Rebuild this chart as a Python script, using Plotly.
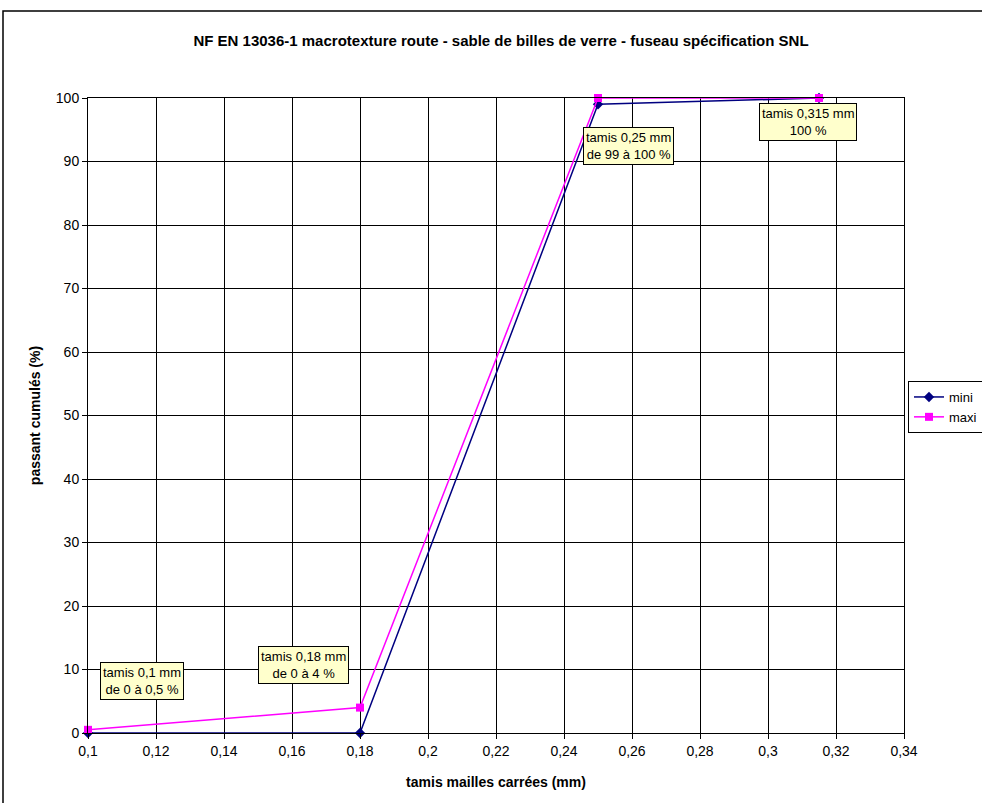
import plotly.graph_objects as go

sieves = [0.1, 0.18, 0.25, 0.315]
mini = [0, 0, 99, 100]
maxi = [0.5, 4, 100, 100]
x_ticks = [0.1, 0.12, 0.14, 0.16, 0.18, 0.2, 0.22, 0.24, 0.26, 0.28, 0.3, 0.32, 0.34]
x_tick_labels = ["0,1", "0,12", "0,14", "0,16", "0,18", "0,2", "0,22", "0,24", "0,26", "0,28", "0,3", "0,32", "0,34"]
notes = ["tamis 0,1 mm<br>de 0 à 0,5 %", "tamis 0,18 mm<br>de 0 à 4 %",
         "tamis 0,25 mm<br>de 99 à 100 %", "tamis 0,315 mm<br>100 %"]

FONT = "Liberation Sans, Arial, sans-serif"
W, H = 1000, 803
L, R, T, B = 88, 96, 98, 70
pw, ph = W - L - R, H - T - B

def px2paper(px, py):
    return (px - L) / pw, (H - B - py) / ph

fig = go.Figure()
fig.add_trace(go.Scatter(x=sieves, y=mini, name="mini", mode="lines+markers",
                         line=dict(color="#000080", width=1.5), cliponaxis=False,
                         marker=dict(symbol="diamond", size=8, color="#000080")))
fig.add_trace(go.Scatter(x=sieves, y=maxi, name="maxi", mode="lines+markers",
                         line=dict(color="#FF00FF", width=1.5), cliponaxis=False,
                         marker=dict(symbol="square", size=8, color="#FF00FF")))

# annotation box positions (pixel centers)
note_pos = [(142, 681), (303, 665), (628, 146), (808, 122)]
anns = []
for txt, (cx, cy) in zip(notes, note_pos):
    xp, yp = px2paper(cx, cy)
    anns.append(dict(text=txt, x=xp, y=yp, xref="paper", yref="paper",
                     xanchor="center", yanchor="middle", showarrow=False,
                     bgcolor="#FFFFCC", bordercolor="black", borderwidth=1, borderpad=2,
                     font=dict(family=FONT, size=13, color="black")))

x0, y0 = px2paper(3, 11)
x1, y1 = px2paper(1020, 830)
fig.update_layout(
    width=W, height=H,
    margin=dict(l=L, r=R, t=T, b=B),
    paper_bgcolor="white", plot_bgcolor="white",
    title=dict(text="<b>NF EN 13036-1 macrotexture route - sable de billes de verre - fuseau spécification SNL</b>",
               x=501 / W, xanchor="center", y=1 - 41 / H, yanchor="middle",
               font=dict(family=FONT, size=15, color="black")),
    xaxis=dict(range=[0.1, 0.34], tickvals=x_ticks, ticktext=x_tick_labels,
               showgrid=True, gridcolor="black", gridwidth=1,
               showline=True, linecolor="black", linewidth=1, mirror=True,
               ticks="outside", ticklen=5, tickcolor="black",
               tickfont=dict(family=FONT, size=14, color="black"),
               title=dict(text="<b>tamis mailles carrées (mm)</b>", standoff=19,
                          font=dict(family=FONT, size=14, color="black")),
               zeroline=False),
    yaxis=dict(range=[0, 100], dtick=10,
               showgrid=True, gridcolor="black", gridwidth=1,
               showline=True, linecolor="black", linewidth=1, mirror=True,
               ticks="outside", ticklen=5, tickcolor="black",
               tickfont=dict(family=FONT, size=14, color="black"),
               title=dict(text="<b>passant cumulés (%)</b>", standoff=11,
                          font=dict(family=FONT, size=14, color="black")),
               zeroline=False),
    legend=dict(x=px2paper(908, 0)[0], y=px2paper(0, 407)[1], xanchor="left", yanchor="middle",
                bordercolor="black", borderwidth=1, bgcolor="white",
                font=dict(family=FONT, size=13, color="black"),
                tracegroupgap=0, itemwidth=30),
    annotations=anns,
    shapes=[dict(type="rect", xref="paper", yref="paper", x0=x0, y0=y1, x1=x1, y1=y0,
                 line=dict(color="black", width=1.5), layer="below")],
    showlegend=True,
)
fig.write_html("out.html", config={"displayModeBar": False},
               post_script="document.body.style.margin='0';document.body.style.overflow='hidden';")
